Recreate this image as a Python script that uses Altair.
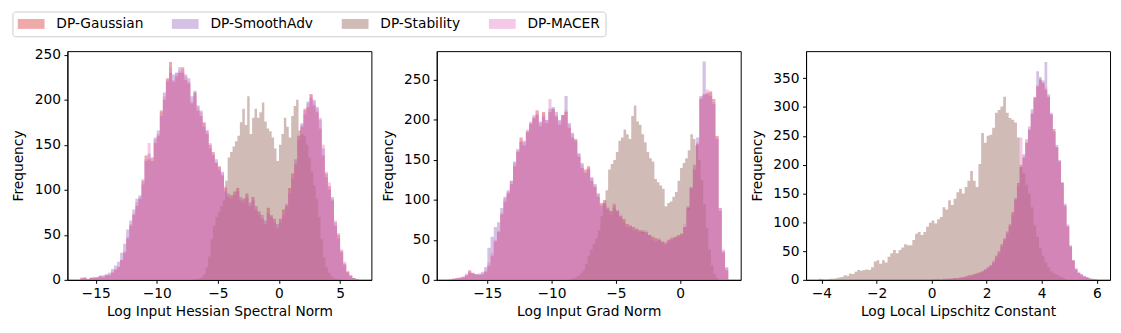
import altair as alt
import pandas as pd

SERIES = ["DP-Gaussian", "DP-SmoothAdv", "DP-Stability", "DP-MACER"]
COLORS = ["#d62728", "#9467bd", "#8c564b", "#e377c2"]

# ---------------- Panel 1: Log Input Hessian Spectral Norm ----------------
P1_PINK_START, P1_PINK_W = -16.25, 0.25
P1_GAUSS = [2, 3, 1, 2, 2, 3, 4, 3, 5, 5,
            8, 11, 14, 22, 30, 46, 60, 72, 82, 90,
            110, 138, 134, 136, 152, 160, 188, 200, 224, 242,
            220, 226, 230, 236, 222, 218, 196, 208, 188, 182,
            175, 162, 150, 142, 130, 126, 116, 102, 92, 94,
            98, 102, 88, 90, 96, 82, 92, 78, 76, 68,
            62, 80, 70, 68, 58, 68, 78, 82, 102, 118,
            128, 160, 170, 190, 192, 206, 194, 186, 168, 138,
            118, 104, 88, 60, 50, 32, 18, 9, 4, 2, 1]
P1_SMOOTH = [1, 2, 1, 2, 3, 3, 4, 5, 6, 8,
             12, 16, 20, 30, 40, 56, 66, 78, 90, 94,
             106, 132, 140, 132, 158, 166, 182, 208, 220, 230,
             228, 230, 236, 230, 228, 224, 204, 210, 194, 188,
             170, 166, 146, 138, 134, 122, 120, 98, 96, 90,
             94, 98, 92, 86, 92, 86, 88, 82, 72, 72,
             66, 74, 72, 64, 62, 64, 72, 84, 96, 112,
             134, 156, 174, 184, 198, 202, 200, 192, 178, 146,
             114, 100, 92, 64, 46, 30, 16, 8, 5, 2, 1]
P1_MACER = [3, 2, 1, 3, 3, 2, 5, 4, 6, 6,
            9, 12, 15, 22, 32, 48, 62, 74, 86, 92,
            112, 134, 152, 130, 156, 162, 186, 204, 222, 236,
            222, 230, 232, 234, 226, 220, 198, 204, 192, 186,
            174, 166, 152, 140, 130, 126, 118, 104, 94, 92,
            96, 100, 90, 88, 94, 84, 90, 80, 74, 70,
            64, 76, 70, 66, 60, 66, 76, 84, 98, 116,
            130, 160, 172, 188, 196, 206, 198, 190, 180, 150,
            120, 108, 90, 66, 52, 34, 20, 10, 5, 2, 1]
P1_STAB_START, P1_STAB_W = -7.0, 0.2
P1_STAB = [1, 1, 2, 3, 6, 14, 26, 45, 60, 70,
           75, 82, 88, 110, 136, 142, 148, 154, 160, 175,
           190, 172, 204, 162, 180, 190, 180, 186, 197, 176,
           168, 165, 158, 146, 132, 150, 162, 180, 170, 158,
           182, 193, 200, 166, 162, 160, 150, 136, 120, 105,
           90, 70, 45, 25, 14, 8, 4, 2, 1, 1]

# ---------------- Panel 2: Log Input Grad Norm ----------------
P2_PINK_START, P2_PINK_W = -18.0, 0.25
P2_GAUSS = [0, 1, 2, 2, 4, 6, 12, 9, 7, 6,
            7, 10, 18, 30, 48, 60, 82, 98, 108, 120,
            142, 160, 178, 168, 186, 196, 202, 212, 192, 210,
            196, 210, 214, 204, 194, 206, 210, 190, 178, 176,
            154, 140, 138, 142, 124, 116, 104, 96, 100, 88,
            86, 94, 86, 80, 76, 70, 68, 66, 64, 62,
            60, 60, 56, 54, 52, 50, 48, 46, 50, 52,
            54, 56, 58, 66, 90, 114, 138, 170, 226, 232,
            234, 236, 226, 180, 86, 34, 12]
P2_SMOOTH = [1, 1, 2, 3, 3, 5, 9, 8, 7, 8,
             10, 16, 40, 54, 66, 72, 90, 104, 112, 124,
             148, 162, 172, 174, 184, 194, 204, 206, 198, 204,
             200, 214, 216, 210, 200, 206, 230, 196, 184, 174,
             158, 146, 134, 138, 128, 120, 108, 92, 96, 90,
             82, 90, 86, 78, 72, 66, 66, 62, 62, 60,
             62, 58, 56, 50, 48, 50, 46, 44, 48, 50,
             52, 54, 56, 66, 92, 116, 144, 178, 230, 273,
             232, 230, 220, 176, 90, 36, 15]
P2_MACER = [1, 2, 2, 3, 4, 8, 10, 8, 6, 7,
            8, 12, 22, 34, 50, 62, 84, 102, 110, 124,
            146, 164, 174, 172, 188, 198, 206, 208, 196, 208,
            200, 226, 212, 206, 198, 202, 212, 194, 182, 172,
            158, 144, 134, 140, 128, 118, 108, 94, 98, 92,
            84, 96, 88, 82, 74, 70, 68, 64, 64, 62,
            58, 62, 56, 52, 50, 52, 48, 48, 50, 54,
            52, 56, 56, 70, 88, 116, 140, 172, 228, 230,
            238, 234, 222, 178, 90, 38, 16]
P2_STAB_START, P2_STAB_W = -8.6, 0.2
P2_STAB = [1, 2, 3, 5, 8, 12, 20, 30, 38, 45,
           52, 62, 80, 95, 112, 138, 145, 150, 160, 174,
           178, 188, 182, 176, 205, 218, 198, 194, 182, 172,
           160, 152, 148, 126, 122, 118, 114, 92, 96, 98,
           104, 110, 124, 140, 146, 152, 162, 182, 176, 168,
           150, 125, 95, 65, 38, 18, 7, 2]

# ---------------- Panel 3: Log Local Lipschitz Constant ----------------
P3_PINK_START, P3_PINK_W = 0.0, 0.1
P3_GAUSS = [0, 1, 1, 0, 2, 1, 2, 2, 3, 3,
            4, 4, 6, 8, 7, 10, 10, 13, 14, 18,
            22, 24, 30, 42, 46, 62, 72, 80, 96, 118,
            138, 168, 196, 212, 238, 260, 288, 316, 336, 348,
            342, 330, 318, 286, 262, 230, 206, 168, 128, 92,
            58, 34, 18, 12, 8, 6, 4, 2, 1, 1]
P3_SMOOTH = [1, 0, 1, 1, 1, 2, 2, 2, 3, 2,
             3, 5, 5, 6, 9, 8, 12, 11, 15, 17,
             20, 26, 32, 38, 50, 58, 68, 84, 92, 112,
             142, 162, 196, 218, 244, 266, 296, 318, 362, 352,
             346, 378, 322, 290, 258, 234, 208, 170, 132, 96,
             60, 34, 20, 12, 10, 6, 5, 3, 2, 1]
P3_MACER = [1, 0, 1, 2, 2, 1, 3, 3, 2, 3,
            4, 5, 7, 7, 8, 9, 11, 12, 16, 19,
            21, 25, 34, 40, 48, 60, 70, 82, 96, 114,
            140, 166, 247, 214, 238, 262, 290, 310, 338, 346,
            340, 334, 316, 288, 256, 230, 204, 164, 130, 94,
            56, 32, 18, 14, 9, 7, 4, 3, 1, 0]
P3_STAB_START, P3_STAB_W = -4.1, 0.1
P3_STAB = [2, 1, 0, 1, 2, 2, 3, 4, 5, 8,
           7, 11, 10, 14, 17, 16, 17, 18, 17, 22,
           32, 34, 28, 34, 30, 40, 46, 52, 46, 52,
           56, 62, 60, 60, 69, 80, 83, 78, 83, 92,
           99, 103, 98, 105, 109, 126, 122, 138, 130, 141,
           152, 158, 150, 161, 172, 189, 172, 161, 201, 255,
           238, 250, 252, 264, 290, 295, 301, 318, 290, 281,
           278, 273, 247, 200, 185, 165, 150, 126, 95, 75,
           55, 42, 30, 22, 15, 11, 9, 6, 4, 2]

FONT = "DejaVu Sans"
FS = 13.9


def hist_df(start, width, counts, name):
    n = len(counts)
    xs = [start + i * width for i in range(n)] + [start + n * width]
    ys = list(counts) + [counts[-1]]
    return pd.DataFrame({"x": xs, "count": ys, "series": name})


def panel(series_data, xdom, xticks, ydom, yticks, xtitle):
    layers = []
    for name in SERIES:
        start, width, counts = series_data[name]
        d = hist_df(start, width, counts, name)
        layers.append(
            alt.Chart(d).mark_area(interpolate="step-after", opacity=0.4).encode(
                x=alt.X("x:Q",
                        scale=alt.Scale(domain=xdom, nice=False, zero=False),
                        axis=alt.Axis(values=xticks, title=xtitle)),
                y=alt.Y("count:Q", stack=False,
                        scale=alt.Scale(domain=ydom, nice=False),
                        axis=alt.Axis(values=yticks, title="Frequency")),
                color=alt.Color("series:N",
                                scale=alt.Scale(domain=SERIES, range=COLORS),
                                legend=alt.Legend(title=None)),
            )
        )
    return alt.layer(*layers).properties(width=307, height=231)


p1 = panel({
    "DP-Gaussian": (P1_PINK_START, P1_PINK_W, P1_GAUSS),
    "DP-SmoothAdv": (P1_PINK_START, P1_PINK_W, P1_SMOOTH),
    "DP-Stability": (P1_STAB_START, P1_STAB_W, P1_STAB),
    "DP-MACER": (P1_PINK_START, P1_PINK_W, P1_MACER),
}, [-17.31, 7.56], [-15, -10, -5, 0, 5], [0, 254], [0, 50, 100, 150, 200, 250],
    "Log Input Hessian Spectral Norm")

p2 = panel({
    "DP-Gaussian": (P2_PINK_START, P2_PINK_W, P2_GAUSS),
    "DP-SmoothAdv": (P2_PINK_START, P2_PINK_W, P2_SMOOTH),
    "DP-Stability": (P2_STAB_START, P2_STAB_W, P2_STAB),
    "DP-MACER": (P2_PINK_START, P2_PINK_W, P2_MACER),
}, [-18.94, 4.72], [-15, -10, -5, 0], [0, 286], [0, 50, 100, 150, 200, 250],
    "Log Input Grad Norm")

p3 = panel({
    "DP-Gaussian": (P3_PINK_START, P3_PINK_W, P3_GAUSS),
    "DP-SmoothAdv": (P3_PINK_START, P3_PINK_W, P3_SMOOTH),
    "DP-Stability": (P3_STAB_START, P3_STAB_W, P3_STAB),
    "DP-MACER": (P3_PINK_START, P3_PINK_W, P3_MACER),
}, [-4.56, 6.48], [-4, -2, 0, 2, 4, 6], [0, 397], [0, 50, 100, 150, 200, 250, 300, 350],
    "Log Local Lipschitz Constant")

chart = alt.hconcat(p1, p2, p3, spacing=8).properties(
    padding={"left": 3, "right": 2, "top": 1, "bottom": 2}
).configure(
    font=FONT,
).configure_view(
    stroke="black", strokeWidth=1
).configure_axis(
    grid=False,
    domainColor="black", domainWidth=1,
    tickColor="black", tickSize=3.5, tickWidth=1,
    labelColor="black", labelFont=FONT, labelFontSize=FS, labelPadding=3.5,
    titleColor="black", titleFont=FONT, titleFontSize=FS, titleFontWeight="normal",
    titlePadding=4,
).configure_axisY(
    titlePadding=8.5,
).configure_legend(
    orient="none", legendX=-55.5, legendY=-40,
    direction="horizontal", columns=4,
    symbolType="M-1.93,-0.71L1.93,-0.71L1.93,0.71L-1.93,0.71Z", symbolSize=196,
    symbolOffset=6.4,
    symbolOpacity=0.4, symbolStrokeWidth=0,
    labelFont=FONT, labelFontSize=FS, labelColor="black", labelOffset=18.4,
    columnPadding=27.6, padding=5.5,
    strokeColor="#cccccc", fillColor="white", cornerRadius=3,
)

chart.save("out.html", embed_options={"renderer": "svg", "actions": False})
